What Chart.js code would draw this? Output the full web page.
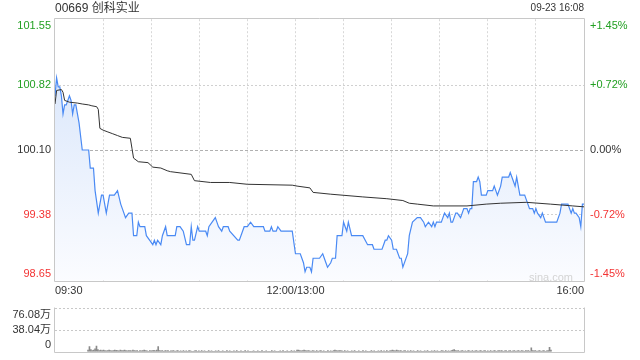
<!DOCTYPE html>
<html><head><meta charset="utf-8">
<script src="https://cdn.jsdelivr.net/npm/chart.js@4/dist/chart.umd.min.js"></script>
<style>
html,body{margin:0;padding:0;background:#fff;width:640px;height:360px;overflow:hidden;}
#wrap{position:relative;width:640px;height:360px;overflow:hidden;font-family:"Liberation Sans","Noto Sans CJK SC",Arial,sans-serif;}
#main{position:absolute;left:0;top:0;width:640px;height:300px;}
#vol{position:absolute;left:0;top:291px;width:640px;height:78px;}
.t{position:absolute;white-space:nowrap;color:#333;}
</style></head><body>
<div id="wrap">
<canvas id="main" width="640" height="300"></canvas>
<canvas id="vol" width="640" height="78"></canvas>
<div class="t" style="left:55px;top:1px;font-size:12px;line-height:14px;">00669 创科实业</div>
<div class="t" style="right:56px;top:2px;font-size:10px;line-height:12px;">09-23 16:08</div>
<div class="t" style="right:67px;top:271px;font-size:11px;line-height:13px;color:#d4d4d4;">sina.com</div>
</div>
<script>
const priceTicks = [98.65, 99.38, 100.10, 100.82, 101.55];
const priceTickLabels = ['98.65', '99.38', '100.10', '100.82', '101.55'];
const pctTickLabels = ['-1.45%', '-0.72%', '0.00%', '+0.72%', '+1.45%'];
const tickColors = ['#f33333', '#f33333', '#333333', '#22a022', '#22a022'];
const timeTicks = [0,30,60,90,120,150,180,210,240,270,300,330];
const timeLabels = {0:'09:30', 150:'12:00/13:00', 330:'16:00'};

const priceMinutes = [0,1,2,3,4,5,6,7,9,10,11,12,13,14,15,17,21,22,24,25,27,29,30,32,34,37,39,41,42,44,46,48,49,51,52,53,56,57,59,61,62,63,64,66,67,69,70,75,76,78,80,82,84,85,86,87,89,90,94,95,96,98,100,101,102,104,105,108,109,114,115,117,118,120,122,124,130,131,134,135,136,138,139,141,148,150,153,155,156,157,159,160,161,163,165,167,168,169,170,172,173,175,176,179,180,181,182,183,185,192,195,198,199,204,205,206,207,208,210,211,213,215,216,217,220,221,223,226,228,230,231,233,235,236,237,238,241,242,243,245,246,247,248,250,251,253,255,257,258,259,260,261,263,264,265,266,269,270,273,274,275,276,278,279,281,283,284,285,286,287,288,289,290,293,294,295,296,298,299,300,301,303,304,305,306,311,313,315,316,318,320,321,322,323,324,325,327,328,329,330];
const priceValues = [100.70,100.90,100.80,100.80,100.70,100.50,100.60,100.60,100.70,100.65,100.50,100.60,100.60,100.50,100.40,100.10,100.10,99.90,99.90,99.65,99.40,99.60,99.60,99.40,99.60,99.60,99.65,99.50,99.45,99.35,99.40,99.40,99.15,99.15,99.30,99.25,99.25,99.15,99.10,99.05,99.10,99.05,99.10,99.05,99.15,99.25,99.15,99.15,99.25,99.25,99.20,99.05,99.05,99.25,99.10,99.10,99.25,99.20,99.20,99.15,99.25,99.30,99.35,99.30,99.25,99.20,99.25,99.25,99.20,99.10,99.10,99.20,99.25,99.25,99.30,99.25,99.25,99.20,99.20,99.25,99.20,99.20,99.25,99.20,99.20,98.95,98.95,98.85,98.75,98.80,98.80,98.75,98.90,98.90,98.90,98.95,98.90,98.85,98.80,98.85,98.90,98.90,99.15,99.15,99.30,99.25,99.20,99.30,99.15,99.15,99.05,99.05,99.00,99.00,99.05,99.10,99.10,99.15,99.10,99.00,99.00,98.90,98.90,98.80,98.95,99.15,99.30,99.35,99.35,99.30,99.25,99.30,99.25,99.30,99.25,99.30,99.30,99.35,99.40,99.35,99.40,99.30,99.30,99.40,99.40,99.35,99.45,99.45,99.40,99.45,99.45,99.75,99.75,99.80,99.75,99.60,99.60,99.65,99.65,99.70,99.65,99.60,99.70,99.80,99.80,99.80,99.85,99.80,99.75,99.70,99.80,99.70,99.60,99.60,99.55,99.50,99.45,99.45,99.40,99.45,99.40,99.35,99.40,99.35,99.30,99.30,99.30,99.40,99.50,99.50,99.50,99.45,99.40,99.45,99.40,99.40,99.35,99.25,99.50,99.50];

const avgMinutes = [0,1,4,5,6,9,14,17,21,23,26,27,28,30,33,36,39,42,47,48,49,52,58,61,66,70,72,85,87,97,109,120,148,151,159,161,172,192,207,217,221,226,236,257,269,278,294,309,323,330];
const avgValues = [100.61,100.76,100.77,100.74,100.65,100.63,100.62,100.61,100.60,100.59,100.58,100.55,100.34,100.32,100.30,100.28,100.26,100.24,100.23,100.12,100.01,99.97,99.96,99.91,99.90,99.87,99.86,99.83,99.76,99.74,99.74,99.72,99.71,99.70,99.68,99.63,99.61,99.58,99.56,99.54,99.51,99.50,99.48,99.48,99.50,99.51,99.52,99.50,99.48,99.47];

const volTicks = [0, 38.04, 76.08];
const volTickLabels = ['0', '38.04万', '76.08万'];
const volumes = [
3,9,4,2,3,5,10,4,2,3,2,3,2,1.5,2,3,2,1.5,2,3,2.5,2,1.5,3,2,2,3,2,1.5,2,
2,1.5,3,2,1.5,2,1,2,1.5,2,3,2,1.5,1,2,1.5,2,2.5,1.5,3,9,2,1.5,2,1,2,1.5,2,1,1.5,
1.5,2,1,1.5,2,1,1.5,1,2,1,1.5,1,2,1.5,1,1,1.5,2,1,1.5,1,2,1,1.5,1,1,2,1,1.5,1,
1,1.5,1,2,1,1,1.5,1,1,2,1,1.5,1,1,1.5,1,2,1,1,1.5,1,1,2,1,1.5,1,1,1,1.5,1,
1,1.5,1,1,2,1,1,1.5,1,1,1,2,1,1.5,1,1,1,1.5,1,2,1,1,1.5,1,1,2,1,1.5,1,3,
3,2,1.5,2,3,2,1.5,2,1.5,1,2,1.5,1,2,1,1.5,2,1,1.5,1,1,2,1,1.5,1,2,3,2,1.5,2,
2,1.5,1,2,1,1.5,1,1,1.5,1,2,1,1,1.5,1,1,2,1,1.5,1,1,1,2,1,1.5,1,1,1.5,1,2,
1,1.5,1,2,1,1.5,2,3,2,1.5,3,2,1.5,2,1,1.5,2,1,1.5,1,2,1,1.5,1,1,2,1,1.5,1,1,
1.5,1,2,1,1,1.5,1,2,1,1.5,1,1,2,1.5,1,2,1,1.5,1,2,3,4,2,1.5,2,1,1.5,2,1,1.5,
1,2,1.5,1,2,1,1.5,2,1,1.5,2,1,1.5,2,1,1.5,1,2,1,1.5,2,1,1.5,2,1.5,2,1,1.5,2,1,
1.5,2,1,1.5,2,1,1.5,2,1,2,1.5,1,2,1.5,2,1,7,2,1.5,2,1,1.5,2,1,1.5,2,1,1.5,2,8,3];

const FONT = "'Liberation Sans','Noto Sans CJK SC',Arial,sans-serif";
Chart.defaults.font.family = FONT;

const boxPlugin = {
  id: 'box',
  afterDraw(chart, args, opts) {
    const ctx = chart.ctx, a = chart.chartArea;
    const l = Math.round(a.left) - 0.5, r = Math.round(a.right) + 0.5;
    const t = Math.round(a.top) - 0.5, b = Math.round(a.bottom) + 0.5;
    ctx.save();
    ctx.strokeStyle = '#c8c8c8';
    ctx.lineWidth = 1;
    ctx.beginPath();
    if (opts.top !== false) { ctx.moveTo(l, t); ctx.lineTo(r, t); }
    ctx.moveTo(l, t); ctx.lineTo(l, b); ctx.lineTo(r, b); ctx.lineTo(r, t);
    ctx.stroke();
    ctx.restore();
  }
};

function shiftLabel(text, i, n) {
  if (i === 0) return [text, ''];
  if (i === n - 1) return ['', text];
  return text;
}

new Chart(document.getElementById('main'), {
  type: 'line',
  data: {
    datasets: [
      {
        data: avgMinutes.map((m, i) => ({x: m, y: avgValues[i]})),
        borderColor: '#333333', borderWidth: 1, pointRadius: 0, fill: false, tension: 0
      },
      {
        data: priceMinutes.map((m, i) => ({x: m, y: priceValues[i]})),
        borderColor: '#4a8af4', borderWidth: 1.2, pointRadius: 0, tension: 0,
        fill: 'start',
        backgroundColor: (c) => {
          const a = c.chart.chartArea;
          if (!a) return 'rgba(213,228,250,0.8)';
          const g = c.chart.ctx.createLinearGradient(0, a.top, 0, a.bottom);
          g.addColorStop(0, '#d3e2fa');
          g.addColorStop(1, '#fbfcff');
          return g;
        }
      }
    ]
  },
  options: {
    responsive: false, animation: false, events: [],
    layout: {padding: {top: 14, left: 0, right: 0, bottom: 0}},
    plugins: {legend: {display: false}, tooltip: {enabled: false}},
    scales: {
      x: {
        type: 'linear', min: 0, max: 330,
        afterBuildTicks: (s) => { s.ticks = timeTicks.map(v => ({value: v})); },
        afterFit: (s) => { s.height = 16; },
        border: {display: false, dash: [2, 2]},
        grid: {drawTicks: false, color: (c) => (c.index === 0 || c.index === timeTicks.length - 1) ? 'rgba(0,0,0,0)' : '#d8d8d8'},
        ticks: {
          autoSkip: false, maxRotation: 0, align: 'inner', padding: 4, color: '#333',
          font: {size: 11},
          callback: (v) => timeLabels[v] || ''
        }
      },
      y: {
        position: 'left', min: 98.65, max: 101.55,
        afterBuildTicks: (s) => { s.ticks = priceTicks.map(v => ({value: v})); },
        afterFit: (s) => { s.width = 55; },
        border: {display: false, dash: (c) => c.index === 2 ? [3, 2] : [2, 2]},
        grid: {drawTicks: false, color: (c) => (c.index === 0 || c.index === 4) ? 'rgba(0,0,0,0)' : (c.index === 2 ? '#b0b0b0' : '#d0d0d0')},
        ticks: {
          autoSkip: false, padding: 4, font: {size: 11},
          color: (c) => tickColors[c.index],
          callback: (v, i) => shiftLabel(priceTickLabels[i], i, priceTicks.length)
        }
      },
      y2: {
        position: 'right', min: 98.65, max: 101.55,
        afterBuildTicks: (s) => { s.ticks = priceTicks.map(v => ({value: v})); },
        afterFit: (s) => { s.width = 56; },
        border: {display: false},
        grid: {display: false, drawTicks: false},
        ticks: {
          autoSkip: false, padding: 6, font: {size: 11},
          color: (c) => tickColors[c.index],
          callback: (v, i) => shiftLabel(pctTickLabels[i], i, priceTicks.length)
        }
      }
    }
  },
  plugins: [boxPlugin]
});

new Chart(document.getElementById('vol'), {
  type: 'bar',
  data: {
    datasets: [{
      data: volumes.map((v, i) => ({x: i, y: v})),
      backgroundColor: '#8a8a8a', barThickness: 1
    }]
  },
  options: {
    responsive: false, animation: false, events: [],
    layout: {padding: {top: 14, bottom: 14, left: 0, right: 56}},
    plugins: {legend: {display: false}, tooltip: {enabled: false}, box: {top: false}},
    scales: {
      x: {type: 'linear', min: 0, max: 330, display: false},
      y: {
        min: 0, max: 76.08,
        afterBuildTicks: (s) => { s.ticks = volTicks.map(v => ({value: v})); },
        afterFit: (s) => { s.width = 55; },
        border: {display: false, dash: [2, 2]},
        grid: {drawTicks: false, color: (c) => c.index === 0 ? 'rgba(0,0,0,0)' : '#c8c8c8'},
        ticks: {
          autoSkip: false, padding: 4, font: {size: 11}, color: '#333',
          callback: (v, i) => shiftLabel(volTickLabels[i], i, volTicks.length)
        }
      }
    }
  },
  plugins: [boxPlugin]
});
</script>
</body></html>
